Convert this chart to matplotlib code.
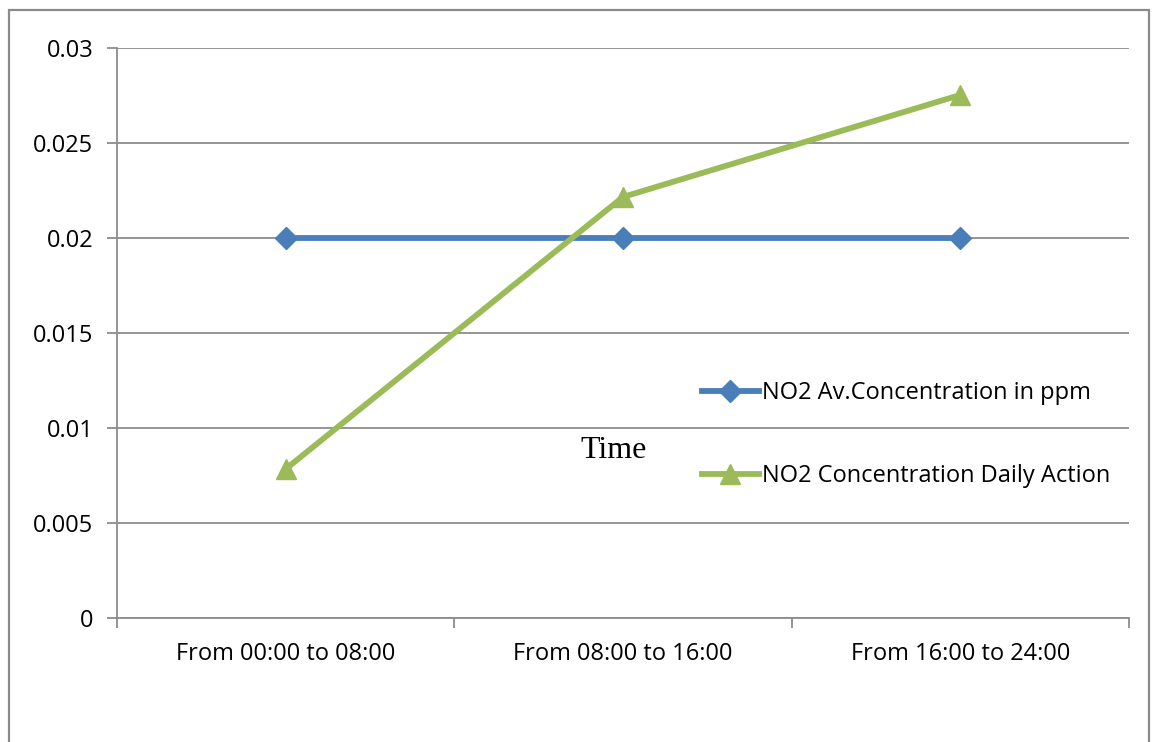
import matplotlib
matplotlib.use("Agg")
import matplotlib.pyplot as plt
from matplotlib.patches import Rectangle
from matplotlib.ticker import FixedLocator, NullFormatter

# Data
categories = ["From 00:00 to 08:00", "From 08:00 to 16:00", "From 16:00 to 24:00"]
avg_concentration = [0.02, 0.02, 0.02]
daily_action = [0.00784, 0.02216, 0.02753]
y_ticks = [0, 0.005, 0.01, 0.015, 0.02, 0.025, 0.03]
y_tick_labels = ["0", "0.005", "0.01", "0.015", "0.02", "0.025", "0.03"]
series_names = ["NO2 Av.Concentration in ppm", "NO2 Concentration Daily Action"]

W, H, DPI = 1152, 742, 100
plt.rcParams["font.family"] = ["Open Sans", "DejaVu Sans"]

fig = plt.figure(figsize=(W / DPI, H / DPI), dpi=DPI)
fig.patch.set_facecolor("white")

# Frame around the whole chart
fig.patches.append(Rectangle((9 / W, -0.05), (1149 - 9) / W, 1 - 10 / H + 0.05,
                             transform=fig.transFigure, fill=False,
                             edgecolor="#8a8a8a", linewidth=1.6, clip_on=False))

ax = fig.add_axes([117 / W, 1 - 618 / H, (1129 - 117) / W, (618 - 48) / H])

grid_col = "#8c8c8c"
label_size = 17
x = list(range(len(categories)))

ax.plot(x, avg_concentration, color="#4A7EBB", linewidth=4.2, marker="D",
        markersize=11, markeredgecolor="#4A7EBB", label=series_names[0], zorder=3)
ax.plot(x, daily_action, color="#9BBB59", linewidth=4.2, marker="^",
        markersize=15, markeredgecolor="#9BBB59", label=series_names[1], zorder=4)

ax.set_xlim(-0.5, len(categories) - 0.5)
ax.set_ylim(0, 0.03)

ax.set_yticks(y_ticks)
ax.set_yticklabels(y_tick_labels)
ax.yaxis.grid(True, color=grid_col, linewidth=1.3)
ax.set_axisbelow(True)

# Category labels centred, tick marks on category boundaries
ax.xaxis.set_major_locator(FixedLocator([i - 0.5 for i in range(len(categories) + 1)]))
ax.xaxis.set_major_formatter(NullFormatter())
ax.xaxis.set_minor_locator(FixedLocator(x))
ax.set_xticklabels(categories, minor=True)
ax.tick_params(axis="x", which="major", direction="out", length=7, width=1.3,
               color=grid_col)
ax.tick_params(axis="x", which="minor", length=0, pad=17, labelsize=label_size)
ax.tick_params(axis="y", direction="out", length=7, width=1.3, color=grid_col,
               labelsize=label_size, pad=10)

for side in ("top", "right"):
    ax.spines[side].set_visible(False)
for side in ("left", "bottom"):
    ax.spines[side].set_color(grid_col)
    ax.spines[side].set_linewidth(1.3)

fig.text(614 / W, 1 - 451 / H, "Time", ha="center", va="center",
         fontsize=23, family="Liberation Serif")

leg = ax.legend(loc="upper left", bbox_to_anchor=(702 / W, 1 - 381 / H),
                bbox_transform=fig.transFigure, frameon=False, fontsize=label_size,
                handlelength=2.4, handletextpad=0.15, labelspacing=2.5,
                borderpad=0, borderaxespad=0)

fig.savefig("out.png", dpi=DPI)
